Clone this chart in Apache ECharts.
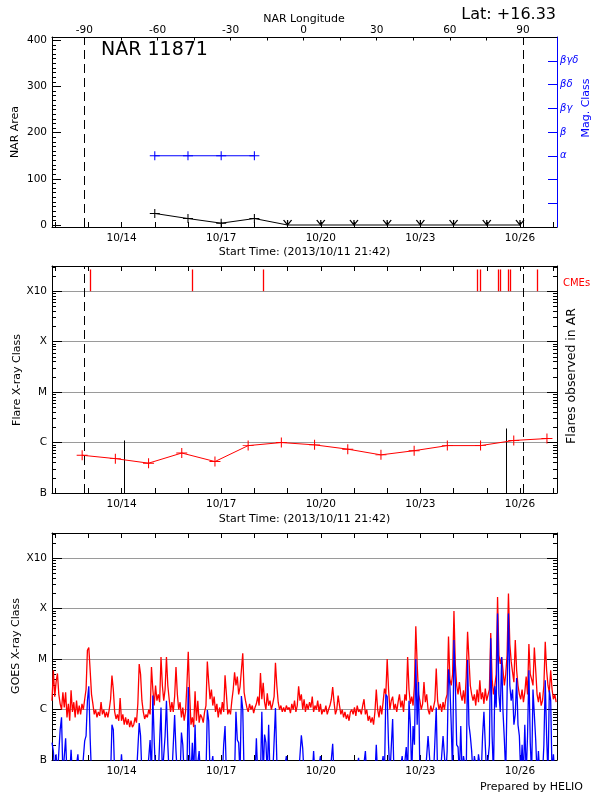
<!DOCTYPE html>
<html><head><meta charset="utf-8">
<script src="https://cdn.jsdelivr.net/npm/echarts@6/dist/echarts.min.js"></script>
<style>html,body{margin:0;padding:0;background:#fff}#c{width:600px;height:800px}</style>
</head><body><div id="c"></div>
<script>
// ---------- DATA ----------
const startTime = '2013-10-11T21:42:00Z';
const endTime = '2013-10-27T02:46:00Z';
const dayTicks = ['2013-10-12T00:00:00Z','2013-10-13T00:00:00Z','2013-10-14T00:00:00Z','2013-10-15T00:00:00Z','2013-10-16T00:00:00Z','2013-10-17T00:00:00Z','2013-10-18T00:00:00Z','2013-10-19T00:00:00Z','2013-10-20T00:00:00Z','2013-10-21T00:00:00Z','2013-10-22T00:00:00Z','2013-10-23T00:00:00Z','2013-10-24T00:00:00Z','2013-10-25T00:00:00Z','2013-10-26T00:00:00Z','2013-10-27T00:00:00Z'];
const dayLabels = ['2013-10-14T00:00:00Z','2013-10-17T00:00:00Z','2013-10-20T00:00:00Z','2013-10-23T00:00:00Z','2013-10-26T00:00:00Z'];
const lonLabels = [-90, -60, -30, 0, 30, 60, 90];
const lonTicks = [-90, -75, -60, -45, -30, -15, 0, 15, 30, 45, 60, 75, 90];
const lonRange = [-103.3, 104];
const limbLongitudes = [-90, 90];
const areaTicks = [0, 100, 200, 300, 400];
const areaRange = [-4.3, 407];
const narDates = ['2013-10-15T00:00:00Z','2013-10-16T00:00:00Z','2013-10-17T00:00:00Z','2013-10-18T00:00:00Z','2013-10-19T00:00:00Z','2013-10-20T00:00:00Z','2013-10-21T00:00:00Z','2013-10-22T00:00:00Z','2013-10-23T00:00:00Z','2013-10-24T00:00:00Z','2013-10-25T00:00:00Z','2013-10-26T00:00:00Z'];
const narArea = [25, 14, 4, 14, 0, 0, 0, 0, 0, 0, 0, 0];
const magTickValues = [1, 2, 3, 4, 5, 6, 7];
const magTickLabels = ['', '', 'α', 'β', 'βγ', 'βδ', 'βγδ'];
const magRange = [0, 8];
const magDates = ['2013-10-15T00:00:00Z','2013-10-16T00:00:00Z','2013-10-17T00:00:00Z','2013-10-18T00:00:00Z'];
const magClass = ['α', 'α', 'α', 'α'];
// flare class axis in units of C1 (1e-6 W/m^2)
const classTickValues = [0.1, 1, 10, 100, 1000];
const classTickLabels = ['B', 'C', 'M', 'X', 'X10'];
const classRange = [0.1, 3162.28];
const flareDailyTimes = ['2013-10-12T19:30:00Z','2013-10-13T19:30:00Z','2013-10-14T19:30:00Z','2013-10-15T19:30:00Z','2013-10-16T19:30:00Z','2013-10-17T19:30:00Z','2013-10-18T19:30:00Z','2013-10-19T19:30:00Z','2013-10-20T19:30:00Z','2013-10-21T19:30:00Z','2013-10-22T19:30:00Z','2013-10-23T19:30:00Z','2013-10-24T19:30:00Z','2013-10-25T19:30:00Z','2013-10-26T19:30:00Z'];
const flareDailyClass = [0.56, 0.48, 0.39, 0.62, 0.42, 0.87, 1.0, 0.9, 0.74, 0.57, 0.69, 0.87, 0.87, 1.1, 1.2];
const arFlareTimes = ['2013-10-14T02:10:00Z', '2013-10-25T13:50:00Z'];
const arFlareClass = [1.1, 1.9];
const cmeTimes = ['2013-10-13T01:20:00Z','2013-10-16T03:00:00Z','2013-10-18T06:35:00Z','2013-10-24T16:50:00Z','2013-10-24T19:35:00Z','2013-10-25T08:00:00Z','2013-10-25T10:05:00Z','2013-10-25T15:50:00Z','2013-10-25T16:40:00Z','2013-10-26T12:20:00Z'];
const goesStepMinutes = 59.1;
const goesLong = [
1.5,6.0,1.8,3.5,5.2,2.0,1.3,1.0,2.2,1.1,
2.2,0.7,1.3,0.6,2.4,0.9,1.4,0.7,1.5,0.8,
1.2,0.8,1.3,1.0,1.6,2.5,15,17,6,2.0,
1.3,0.8,1.0,0.7,0.9,0.75,1.4,0.8,1.0,0.7,
0.9,0.7,1.0,1.6,4.7,2.5,0.9,0.65,0.8,0.6,
1.7,0.6,0.8,0.5,0.7,0.5,0.65,0.45,0.6,0.45,
0.5,0.7,0.55,1.3,8.0,5.0,1.5,0.9,0.65,0.8,
0.7,1.0,0.8,7.0,2.5,1.2,3.0,1.5,2.0,1.4,
11,3.0,1.5,2.5,11,3.0,1.6,0.9,1.4,0.9,
1.8,7.0,2.0,1.0,1.4,0.7,1.1,0.6,0.9,3.0,
14,2.0,0.5,0.7,0.45,2.3,0.6,1.5,0.55,0.8,
0.7,0.55,0.9,1.2,9.0,3.5,1.6,2.5,1.2,1.8,
0.9,1.3,0.7,1.1,0.8,1.4,0.9,4.8,2.0,0.8,
1.0,0.8,1.5,2.5,5.5,3.0,4.5,2.0,2.8,3.0,
13,2.2,1.5,1.1,0.9,1.3,1.0,1.2,0.85,1.1,
1.3,1.8,1.2,5.3,1.6,3.4,1.4,1.0,2.1,1.2,
1.5,1.0,1.3,1.8,8.5,3.0,1.4,1.0,1.2,0.9,
1.1,0.9,1.2,1.0,1.1,0.85,1.3,1.0,1.5,0.9,
1.2,2.9,1.5,2.0,1.0,1.6,0.9,1.3,1.0,1.4,
1.1,1.8,0.9,1.2,1.0,1.5,0.9,1.3,0.8,1.0,
0.9,1.2,0.8,1.0,1.2,1.6,2.8,1.4,0.8,1.0,
1.9,1.2,0.8,1.0,0.7,0.9,0.65,0.8,0.6,0.9,
1.0,0.8,1.1,0.75,1.2,0.9,1.0,0.8,1.2,1.6,
0.8,1.0,0.6,0.75,0.55,0.7,0.5,0.9,2.5,1.0,
0.7,1.2,0.8,1.4,2.6,2.0,10,2.5,1.0,1.5,
1.8,1.0,1.3,0.9,1.4,2.0,1.1,1.5,0.9,2.0,
1.5,11,2.5,1.3,1.8,1.2,3.0,45,8,2.0,
1.5,1.0,1.3,3.5,1.4,2.0,1.0,0.8,1.2,0.9,
1.1,1.5,6.5,1.5,1.0,1.3,0.9,1.4,1.0,1.6,
2.0,28,4.0,3.0,5.0,90,8,3.0,2.0,3.5,
2.0,1.5,2.4,1.3,4.5,35,10,3.0,2.0,1.5,
2.0,1.2,2.5,1.4,3.8,1.6,2.2,1.3,2.6,1.5,
1.5,2.5,33,4.0,2.0,3.0,5.0,170,12,8,
11,6,3.0,5.0,12,200,20,9,5.5,3.5,
24,6,3.0,2.0,1.6,2.5,1.4,2.2,4.5,2.0,
20,5,4,3.0,17,6,2.0,1.4,2.2,1.2,
1.5,3.0,22,6,3.0,2.2,6,2.5,1.6,2.0,1.4];
const goesShort = [
0.22,0.15,0.05,0.13,0.05,0.05,0.4,0.7,0.05,0.05,
0.27,0.05,0.05,0.05,0.16,0.05,0.05,0.05,0.05,0.13,
0.05,0.05,0.05,0.05,0.24,0.3,1.5,2.9,0.27,0.05,
0.05,0.05,0.05,0.05,0.05,0.05,0.05,0.05,0.05,0.05,
0.05,0.05,0.05,0.05,0.5,0.4,0.05,0.05,0.05,0.05,
0.05,0.13,0.05,0.05,0.05,0.05,0.05,0.05,0.05,0.05,
0.05,0.05,0.05,0.05,0.54,0.3,0.05,0.05,0.05,0.05,
0.05,0.05,0.25,0.05,1.9,0.25,0.05,0.05,0.05,0.05,
1.1,0.05,0.05,0.3,1.5,0.2,0.05,0.05,0.05,0.05,
0.78,0.15,0.05,0.05,0.05,0.35,0.2,0.05,0.05,0.05,
2.8,0.12,0.05,0.22,0.05,0.5,0.05,0.05,0.15,0.05,
0.05,0.05,0.05,0.05,0.98,0.6,0.05,0.05,0.12,0.05,
0.05,0.05,0.05,0.05,0.05,0.05,0.2,0.47,0.05,0.05,
0.05,0.05,0.05,0.05,0.05,0.9,0.25,0.22,0.05,1.85,
1.0,0.05,0.05,0.05,0.05,0.05,0.05,0.05,0.05,0.05,
0.27,0.05,0.05,0.05,0.9,0.05,0.32,0.22,0.05,0.5,
0.05,0.05,0.05,0.05,1.07,0.1,0.05,0.05,0.05,0.05,
0.05,0.05,0.12,0.05,0.05,0.05,0.05,0.05,0.05,0.05,
0.05,0.05,0.05,0.31,0.17,0.05,0.05,0.05,0.05,0.05,
0.05,0.05,0.15,0.05,0.05,0.05,0.05,0.12,0.05,0.05,
0.05,0.05,0.05,0.05,0.05,0.05,0.21,0.05,0.05,0.05,
0.05,0.05,0.05,0.05,0.05,0.05,0.05,0.05,0.05,0.05,
0.05,0.05,0.05,0.05,0.05,0.11,0.05,0.05,0.05,0.05,
0.15,0.05,0.05,0.05,0.05,0.05,0.05,0.05,0.2,0.05,
0.05,0.05,0.05,0.12,0.05,2.0,1.8,0.2,0.05,0.05,
0.65,0.05,0.05,0.05,0.05,0.05,0.05,0.12,0.05,0.05,
0.18,0.05,1.5,0.5,0.05,0.47,0.2,10,0.5,3.5,
0.05,0.05,0.05,0.05,0.05,0.05,0.3,0.3,0.05,0.05,
0.05,0.05,1.1,0.05,0.05,0.05,0.05,0.3,0.28,0.05,
0.15,6.3,3.0,0.5,0.05,24,3.5,0.2,0.18,0.05,
0.47,0.05,0.12,0.13,0.05,9.6,0.5,0.3,0.15,0.05,
0.12,0.13,0.05,0.13,0.12,0.05,0.3,0.9,0.2,0.05,
0.05,0.2,26,0.3,0.05,2.9,1.1,80,2.0,0.9,
11,0.9,0.25,0.05,2.0,80,3.0,1.5,2.5,0.5,
0.8,4.2,0.5,0.3,0.05,0.2,0.05,0.5,0.05,0.3,
6,0.22,0.05,2.5,2.4,0.25,0.05,0.15,0.05,0.05,
0.05,0.2,3.8,0.3,0.05,2.4,1.5,0.05,0.13,0.05,0.05];

// ---------- BUILD ----------
const F = 'DejaVu Sans';
const T = s => Date.parse(s);
const tMin = T(startTime), tMax = T(endTime);
const pad2 = n => String(n).padStart(2, '0');
const fmtDate = v => { const d = new Date(v); return pad2(d.getUTCMonth() + 1) + '/' + pad2(d.getUTCDate()); };
const classFmt = v => {
  for (let i = 0; i < classTickValues.length; i++) {
    if (Math.abs(Math.log10(v) - Math.log10(classTickValues[i])) < 0.01) return classTickLabels[i];
  }
  return '';
};
const classMajor = classTickValues.slice(1);
const classMinor = [];
for (let e = -1; e <= 3; e++) for (let k = 2; k <= 9; k++) {
  const v = Number((k * Math.pow(10, e)).toPrecision(3));
  if (v < classRange[1]) classMinor.push(v);
}
const areaMinor = [];
for (let v = 10; v < areaRange[1]; v += 10) if (v % 100 !== 0) areaMinor.push(v);

const PLUS = 'path://M5,0L5,10M0,5L10,5';
const VMARK = 'path://M0,0L5,8L10,0M5,0L5,8';

function timeAxis(grid, pos, labels, name, gap) {
  return {
    type: 'value', gridIndex: grid, position: pos, min: tMin, max: tMax,
    axisLine: { show: true, onZero: false, lineStyle: { color: '#000', width: 1 } },
    axisTick: { show: true, inside: true, length: 5, customValues: dayTicks.map(T), lineStyle: { color: '#000' } },
    axisLabel: { show: labels, customValues: dayLabels.map(T), formatter: fmtDate, color: '#000', fontFamily: F, fontSize: 10.5, margin: 6 },
    splitLine: { show: false },
    name: name || '', nameLocation: 'middle', nameGap: gap || 19, nameMoveOverlap: false,
    nameTextStyle: { color: '#000', fontFamily: F, fontSize: 11, verticalAlign: 'top' }
  };
}
function logAxis(grid, pos, major, labels) {
  return {
    type: 'log', logBase: 10, gridIndex: grid, position: pos, min: classRange[0], max: classRange[1],
    axisLine: { show: major, onZero: false, lineStyle: { color: '#000', width: 1 } },
    axisTick: { show: true, inside: true, length: major ? 10 : 4, customValues: major ? classMajor : classMinor, lineStyle: { color: '#000' } },
    axisLabel: { show: labels, customValues: classTickValues, formatter: classFmt, color: '#000', fontFamily: F, fontSize: 10.5, margin: 5 },
    splitLine: { show: labels, lineStyle: { color: '#9a9a9a', width: 1 } }
  };
}

const grids = [
  { left: 52, right: 43, top: 37, height: 190, outerBoundsMode: 'none' },
  { left: 52, right: 43, top: 266, height: 227, outerBoundsMode: 'none' },
  { left: 52, right: 43, top: 533, height: 227, outerBoundsMode: 'none' }
];

const xAxes = [
  timeAxis(0, 'bottom', true, 'Start Time: (2013/10/11 21:42)', 20),
  {
    type: 'value', gridIndex: 0, position: 'top', min: lonRange[0], max: lonRange[1],
    axisLine: { onZero: false, lineStyle: { color: '#000' } },
    axisTick: { inside: true, length: 3.5, customValues: lonTicks, lineStyle: { color: '#000' } },
    axisLabel: { customValues: lonLabels, color: '#000', fontFamily: F, fontSize: 10.5, margin: 1.5 },
    splitLine: { show: false }
  },
  timeAxis(1, 'bottom', true, 'Start Time: (2013/10/11 21:42)', 21),
  timeAxis(1, 'top', false),
  { type: 'value', gridIndex: 1, position: 'top', min: lonRange[0], max: lonRange[1], show: false, axisLine: { onZero: false } },
  timeAxis(2, 'bottom', true),
  timeAxis(2, 'top', false)
];

const yAxes = [
  {
    type: 'value', gridIndex: 0, position: 'left', min: areaRange[0], max: areaRange[1],
    axisLine: { show: true, onZero: false, lineStyle: { color: '#000' } },
    axisTick: { inside: true, length: 9, customValues: areaTicks, lineStyle: { color: '#000' } },
    axisLabel: { customValues: areaTicks, color: '#000', fontFamily: F, fontSize: 10.5, margin: 5 },
    splitLine: { show: false }
  },
  {
    type: 'value', gridIndex: 0, position: 'left', min: areaRange[0], max: areaRange[1],
    axisLine: { show: false, onZero: false },
    axisTick: { inside: true, length: 4, customValues: areaMinor, lineStyle: { color: '#000' } },
    axisLabel: { show: false }, splitLine: { show: false }
  },
  {
    type: 'value', gridIndex: 0, position: 'right', min: magRange[0], max: magRange[1],
    axisLine: { show: true, onZero: false, lineStyle: { color: '#0000ff' } },
    axisTick: { inside: true, length: 9, customValues: magTickValues, lineStyle: { color: '#0000ff' } },
    axisLabel: { customValues: magTickValues, formatter: v => magTickLabels[magTickValues.indexOf(Math.round(v))] || '',
      color: '#0000ff', fontFamily: F, fontSize: 10, fontStyle: 'italic', margin: 3 },
    splitLine: { show: false }
  },
  logAxis(1, 'left', true, true),
  logAxis(1, 'left', false, false),
  logAxis(1, 'right', true, false),
  logAxis(1, 'right', false, false),
  logAxis(2, 'left', true, true),
  logAxis(2, 'left', false, false),
  logAxis(2, 'right', true, false),
  logAxis(2, 'right', false, false)
];

const dashStyle = { color: '#000', width: 1, type: [9, 5] };

const series = [
  {
    type: 'line', xAxisIndex: 0, yAxisIndex: 0, z: 5,
    data: narDates.map((d, i) => ({
      value: [T(d), narArea[i]],
      symbol: narArea[i] > 0 ? PLUS : VMARK,
      symbolSize: narArea[i] > 0 ? [10, 9] : [8, 5],
      symbolOffset: narArea[i] > 0 ? [0, 0] : [0, -2.5]
    })),
    lineStyle: { color: '#000', width: 1 },
    itemStyle: { color: 'none', borderColor: '#000', borderWidth: 1 },
    showSymbol: true, animation: false
  },
  {
    type: 'line', xAxisIndex: 0, yAxisIndex: 2, z: 5,
    data: magDates.map((d, i) => [T(d), magTickValues[magTickLabels.indexOf(magClass[i])]]),
    symbol: PLUS, symbolSize: [10, 9],
    lineStyle: { color: '#0000ff', width: 1 },
    itemStyle: { color: 'none', borderColor: '#0000ff', borderWidth: 1 },
    animation: false
  },
  {
    type: 'line', xAxisIndex: 1, yAxisIndex: 0, data: [], animation: false,
    markLine: { silent: true, symbol: 'none', animation: false, label: { show: false }, lineStyle: dashStyle,
      data: limbLongitudes.map(l => ({ xAxis: l })) }
  },
  {
    type: 'line', xAxisIndex: 4, yAxisIndex: 3, data: [], animation: false,
    markLine: { silent: true, symbol: 'none', animation: false, label: { show: false }, lineStyle: dashStyle,
      data: limbLongitudes.map(l => ({ xAxis: l })) }
  },
  {
    type: 'line', xAxisIndex: 2, yAxisIndex: 3, z: 5,
    data: flareDailyTimes.map((d, i) => [T(d), flareDailyClass[i]]),
    symbol: PLUS, symbolSize: [11, 10],
    lineStyle: { color: '#ff0000', width: 1 },
    itemStyle: { color: 'none', borderColor: '#ff0000', borderWidth: 1 },
    animation: false,
    markLine: {
      silent: true, symbol: 'none', animation: false, label: { show: false },
      data: [
        ...cmeTimes.map(d => [
          { coord: [T(d), classTickValues[4]], lineStyle: { color: '#ff0000', width: 1.3, type: 'solid' } },
          { coord: [T(d), 2700] }
        ]),
        ...arFlareTimes.map((d, i) => [
          { coord: [T(d), classTickValues[0]], lineStyle: { color: '#000', width: 1, type: 'solid' } },
          { coord: [T(d), arFlareClass[i]] }
        ])
      ]
    }
  },
  {
    type: 'line', xAxisIndex: 5, yAxisIndex: 7, z: 3,
    data: goesLong.map((v, i) => [tMin + i * goesStepMinutes * 60000, v]),
    showSymbol: false, symbol: 'none', clip: true,
    lineStyle: { color: '#ff0000', width: 1.3 }, animation: false
  },
  {
    type: 'line', xAxisIndex: 5, yAxisIndex: 7, z: 4,
    data: goesShort.map((v, i) => [tMin + i * goesStepMinutes * 60000, v]),
    showSymbol: false, symbol: 'none', clip: true,
    lineStyle: { color: '#0000ff', width: 1.3 }, animation: false
  }
];

const txt = (text, x, y, opt) => Object.assign({
  type: 'text', x: x, y: y, silent: true,
  style: Object.assign({ text: text, fill: '#000', font: '11px "DejaVu Sans"', align: 'center', verticalAlign: 'middle' }, opt.style || {})
}, opt.rot ? { rotation: Math.PI / 2 } : {});

const graphic = [
  txt('NAR Longitude', 304, 19, {}),
  txt('NAR 11871', 101, 50, { style: { font: '19px "DejaVu Sans"', align: 'left' } }),
  txt('Lat: +16.33', 556, 15, { style: { font: '16px "DejaVu Sans"', align: 'right' } }),
  txt('NAR Area', 15, 132, { rot: true }),
  txt('Mag. Class', 586, 108, { rot: true, style: { fill: '#0000ff' } }),
  txt('Flare X-ray Class', 17, 380, { rot: true }),
  txt('Flares observed in AR', 572, 376, { rot: true, style: { font: '12.5px "DejaVu Sans"' } }),
  txt('CMEs', 563, 283, { style: { fill: '#ff0000', font: '10px "DejaVu Sans"', align: 'left' } }),
  txt('GOES X-ray Class', 16, 646, { rot: true }),
  txt('Prepared by HELIO', 583, 787, { style: { align: 'right' } })
];

const chart = echarts.init(document.getElementById('c'), null, { renderer: 'canvas' });
chart.setOption({
  backgroundColor: '#fff',
  animation: false,
  grid: grids,
  xAxis: xAxes,
  yAxis: yAxes,
  series: series,
  graphic: graphic
});
</script>
</body></html>
